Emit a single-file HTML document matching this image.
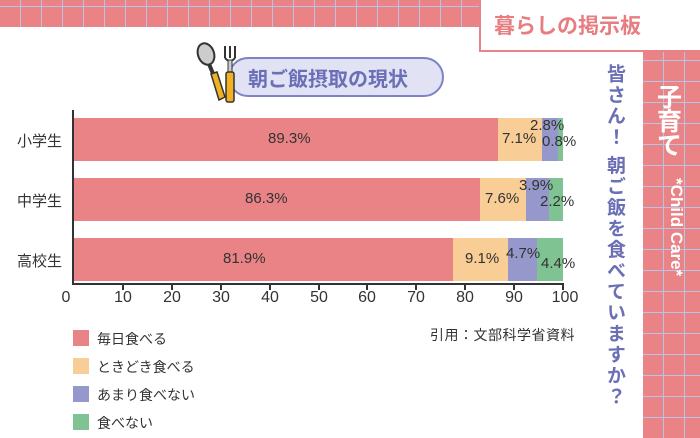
<!DOCTYPE html>
<html><head><meta charset="utf-8"><style>
body{margin:0;width:700px;height:438px;position:relative;overflow:hidden;background:#fff;font-family:"Liberation Sans","Noto Sans CJK JP",sans-serif;}
.grid{position:absolute;background-color:#e98386;background-image:repeating-linear-gradient(90deg,transparent 0 20px,#b9c3e6 20px 21px),repeating-linear-gradient(0deg,transparent 0 20px,#b9c3e6 20px 21px);}
.a{position:absolute;}
.bar{position:absolute;height:43px;}
.lbl{position:absolute;font-size:15px;color:#333;white-space:nowrap;}
.tick{position:absolute;top:284px;width:2px;height:6px;background:#333;}
.tl{position:absolute;top:289px;font-size:16px;color:#333;width:40px;text-align:center;}
.leg{position:absolute;left:73px;width:16px;height:16px;}
.lt{position:absolute;left:97px;font-size:14px;color:#333;}
</style></head><body>
<div class="grid" style="left:0;top:0;width:700px;height:27px"></div>
<div class="grid" style="left:643px;top:52px;width:57px;height:386px"></div>
<div class="a" style="left:479px;top:0;width:221px;height:50px;background:#fff;border-left:2px solid #e98386;border-bottom:2px solid #e98386"></div>
<div class="a" style="left:494px;top:10px;font-size:21px;font-weight:bold;color:#e77d80">暮らしの掲示板</div>
<div class="a" style="left:657px;top:86px;width:30px;font-size:25px;font-weight:bold;color:#fff;line-height:24px">子<br>育<br>て</div>
<div class="a" style="left:666px;top:178px;writing-mode:vertical-rl;font-size:17px;font-weight:bold;color:#fff">*Child Care*</div>
<div class="a" style="left:601px;top:64px;writing-mode:vertical-rl;font-size:19px;font-weight:bold;color:#6b6fb5;letter-spacing:2px">皆さん！ 朝ご飯を食べていますか？</div>
<div class="a" style="left:228px;top:57px;width:212px;height:36px;background:#e1e2f4;border:2px solid #7d82c6;border-radius:20px"></div>
<div class="a" style="left:248px;top:63px;font-size:20px;font-weight:bold;color:#6a6fb8">朝ご飯摂取の現状</div>
<svg class="a" style="left:195px;top:42px" width="48" height="62" viewBox="0 0 48 62">
<ellipse cx="11" cy="12" rx="8" ry="11" fill="#ccc" stroke="#333" stroke-width="2" transform="rotate(-20 11 12)"/>
<line x1="14" y1="22" x2="19" y2="34" stroke="#333" stroke-width="4"/>
<path d="M16 32 L22 30 L30 55 L24 58 Z" fill="#f2b123" stroke="#333" stroke-width="1.5"/>
<path d="M30 4 V16 M35 4 V16 M40 4 V16 M30 16 Q35 22 40 16" fill="none" stroke="#333" stroke-width="2"/>
<rect x="33" y="18" width="4" height="12" fill="#ccc" stroke="#333"/>
<rect x="31" y="30" width="8" height="30" rx="2" fill="#f2b123" stroke="#333" stroke-width="1.5"/>
</svg>
<div class="a" style="left:72px;top:110px;width:2px;height:174px;background:#333"></div>
<div class="a" style="left:72px;top:283px;width:492px;height:2px;background:#333"></div>
<div class="lbl" style="left:17px;top:130px">小学生</div>
<div class="lbl" style="left:17px;top:190px">中学生</div>
<div class="lbl" style="left:17px;top:250px">高校生</div>
<div class="bar" style="top:118px;left:74px;width:424px;background:#e98386"></div>
<div class="bar" style="top:118px;left:498px;width:44px;background:#f8cd96"></div>
<div class="bar" style="top:118px;left:542px;width:16px;background:#9698cc"></div>
<div class="bar" style="top:118px;left:558px;width:5px;background:#7fc393"></div>
<div class="bar" style="top:178px;left:74px;width:406px;background:#e98386"></div>
<div class="bar" style="top:178px;left:480px;width:46px;background:#f8cd96"></div>
<div class="bar" style="top:178px;left:526px;width:23px;background:#9698cc"></div>
<div class="bar" style="top:178px;left:549px;width:14px;background:#7fc393"></div>
<div class="bar" style="top:238px;left:74px;width:379px;background:#e98386"></div>
<div class="bar" style="top:238px;left:453px;width:55px;background:#f8cd96"></div>
<div class="bar" style="top:238px;left:508px;width:29px;background:#9698cc"></div>
<div class="bar" style="top:238px;left:537px;width:26px;background:#7fc393"></div>
<div class="lbl" style="left:268px;top:130px">89.3%</div>
<div class="lbl" style="left:502px;top:130px">7.1%</div>
<div class="lbl" style="left:530px;top:117px">2.8%</div>
<div class="lbl" style="left:542px;top:133px">0.8%</div>
<div class="lbl" style="left:245px;top:190px">86.3%</div>
<div class="lbl" style="left:485px;top:190px">7.6%</div>
<div class="lbl" style="left:519px;top:177px">3.9%</div>
<div class="lbl" style="left:540px;top:193px">2.2%</div>
<div class="lbl" style="left:223px;top:250px">81.9%</div>
<div class="lbl" style="left:465px;top:250px">9.1%</div>
<div class="lbl" style="left:506px;top:245px">4.7%</div>
<div class="lbl" style="left:541px;top:255px">4.4%</div>
<div class="tick" style="left:122px"></div><div class="tick" style="left:171px"></div><div class="tick" style="left:220px"></div><div class="tick" style="left:269px"></div><div class="tick" style="left:318px"></div><div class="tick" style="left:366px"></div><div class="tick" style="left:415px"></div><div class="tick" style="left:464px"></div><div class="tick" style="left:513px"></div><div class="tick" style="left:562px"></div>
<div class="tl" style="left:46px">0</div><div class="tl" style="left:103px">10</div><div class="tl" style="left:152px">20</div><div class="tl" style="left:201px">30</div><div class="tl" style="left:250px">40</div><div class="tl" style="left:299px">50</div><div class="tl" style="left:347px">60</div><div class="tl" style="left:396px">70</div><div class="tl" style="left:445px">80</div><div class="tl" style="left:494px">90</div><div class="tl" style="left:545px">100</div>
<div class="leg" style="top:330px;background:#e98386"></div><div class="lt" style="top:329px">毎日食べる</div>
<div class="leg" style="top:358px;background:#f8cd96"></div><div class="lt" style="top:357px">ときどき食べる</div>
<div class="leg" style="top:386px;background:#9698cc"></div><div class="lt" style="top:385px">あまり食べない</div>
<div class="leg" style="top:414px;background:#7fc393"></div><div class="lt" style="top:413px">食べない</div>
<div class="a" style="left:430px;top:325px;font-size:14px;color:#333;letter-spacing:0.5px">引用：文部科学省資料</div>
</body></html>
